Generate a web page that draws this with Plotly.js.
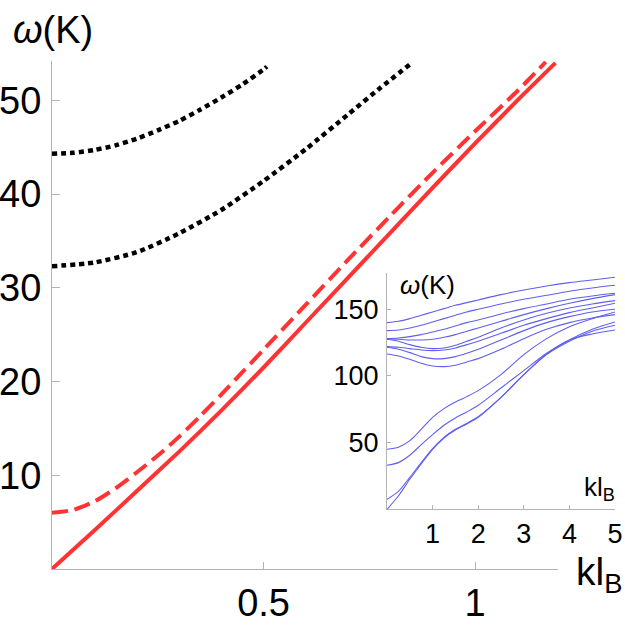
<!DOCTYPE html>
<html>
<head>
<meta charset="utf-8">
<script src="https://cdn.plot.ly/plotly-3.0.1.min.js"></script>
<style>html,body{margin:0;padding:0;background:#fff;}#chart{width:625px;height:628px;}</style>
</head>
<body>
<div id="chart"></div>
<script>
// ---- Main panel data (kl_B vs ω in K) ----
const solidX = [0, 0.1, 0.2, 0.3, 0.4, 0.5, 0.6, 0.7, 0.8, 0.9, 1.0, 1.1, 1.19];
const solidY = [0, 4.1, 8.3, 12.5, 16.9, 21.5, 26.3, 31.1, 35.9, 40.7, 45.4, 50.0, 54.0];

const dashedX = [0, 0.05, 0.1, 0.15, 0.2, 0.25, 0.3, 0.35, 0.4, 0.45, 0.5, 0.6, 0.7, 0.8, 0.9, 1.0, 1.1, 1.167];
const dashedY = [6.0, 6.3, 7.2, 8.6, 10.3, 12.1, 14.1, 16.3, 18.6, 21.0, 23.4, 28.2, 33.0, 37.7, 42.3, 46.7, 51.0, 54.1];

const dot1X = [0, 0.05, 0.1, 0.15, 0.2, 0.25, 0.3, 0.35, 0.4, 0.45, 0.5, 0.508];
const dot1Y = [44.3, 44.4, 44.7, 45.2, 45.9, 46.8, 47.8, 49.0, 50.3, 51.7, 53.3, 53.6];

const dot2X = [0, 0.1, 0.2, 0.3, 0.4, 0.5, 0.6, 0.7, 0.775, 0.845];
const dot2Y = [32.3, 32.7, 33.8, 35.8, 38.3, 41.4, 44.8, 48.5, 51.3, 53.8];

const mainXTicks = [0.5, 1];
const mainXTickText = ["0.5", "1"];
const mainYTicks = [10, 20, 30, 40, 50];
const mainYTickText = ["10", "20", "30", "40", "50"];

// ---- Inset data ----
const insetX = [0, 0.25, 0.5, 0.75, 1, 1.25, 1.5, 1.75, 2, 2.5, 3, 3.5, 4, 4.5, 5];
const band1 = [140, 141, 143, 145.5, 148, 150.5, 153, 155, 157, 161, 164.5, 167.5, 170, 172, 174];
const band2 = [134, 134.5, 136, 138, 140.5, 143, 145.5, 148, 150, 154, 157.5, 160.5, 163.5, 166, 168];
const band3 = [128, 128.5, 129.5, 131, 133, 135, 137.5, 140, 142, 146.5, 150.5, 154, 157.5, 160, 162];
const band4 = [128, 127.5, 127, 127, 127.5, 129, 131, 133.5, 136, 141, 146, 150.5, 154.5, 158, 161];
const band5 = [127.5, 126, 123.5, 121.5, 120.5, 121, 123, 126, 129, 136, 142, 147, 151, 154, 156.5];
const band6 = [122, 121.5, 120.5, 119.5, 119, 119.5, 121, 123.5, 126, 132, 138, 143, 147.5, 151, 154.5];
const band7 = [121.5, 120, 117.5, 114.5, 113, 113, 114.5, 117, 120, 127, 134, 140, 144.5, 148, 150];
const band8 = [116.5, 115, 112.5, 109.5, 107.5, 107, 108, 110.5, 113, 120, 128, 135, 140, 143.5, 146];
const band9 = [45, 46.5, 51.5, 60, 69, 75.5, 80.5, 84.5, 89, 101, 116, 128, 137, 143, 148];
const band10 = [33, 35, 40.5, 48.5, 56, 63, 68.5, 73, 78, 91, 104, 117, 127, 131.5, 134.5];
const band11 = [7.5, 13.5, 24, 35, 45.5, 54, 60, 64.5, 69.5, 84, 101, 116, 126, 133.5, 138];
const band12 = [0, 10, 22.5, 34, 45, 53.5, 59.5, 64, 69, 84, 101, 116.5, 127, 135, 140.5];
const insetBands = [band1, band2, band3, band4, band5, band6, band7, band8, band9, band10, band11, band12];

const insetXTicks = [1, 2, 3, 4, 5];
const insetYTicks = [50, 100, 150];

const FONT = "Liberation Sans, Arial, Helvetica, sans-serif";
const red = "#ff3333";
const blue = "rgb(95,95,240)";

const traces = [
  {x: dot1X, y: dot1Y, mode: "lines", line: {color: "#000", width: 4.5, dash: "5px,4px", shape: "spline", smoothing: 0.6}, xaxis: "x", yaxis: "y"},
  {x: dot2X, y: dot2Y, mode: "lines", line: {color: "#000", width: 4.5, dash: "5px,4px", shape: "spline", smoothing: 0.6}, xaxis: "x", yaxis: "y"},
  {x: dashedX, y: dashedY, mode: "lines", line: {color: red, width: 4, dash: "16px,7px", shape: "spline", smoothing: 0.6}, xaxis: "x", yaxis: "y"},
  {x: solidX, y: solidY, mode: "lines", line: {color: red, width: 4, shape: "spline", smoothing: 0.6}, xaxis: "x", yaxis: "y"}
];
insetBands.forEach(b => traces.push({x: insetX, y: b, mode: "lines", line: {color: blue, width: 1.1, shape: "spline", smoothing: 0.8}, xaxis: "x2", yaxis: "y2"}));

const axisCommon = {showgrid: false, zeroline: false, showline: true, linecolor: "#b3b3b3", linewidth: 1, ticks: "inside", tickcolor: "#b3b3b3", tickwidth: 1, fixedrange: true};

const layout = {
  width: 625, height: 628,
  margin: {l: 0, r: 0, t: 0, b: 0},
  paper_bgcolor: "#fff", plot_bgcolor: "rgba(0,0,0,0)",
  showlegend: false,
  font: {family: FONT, color: "#000"},
  xaxis: Object.assign({}, axisCommon, {
    domain: [52/625, 558/625], range: [0, 1.196], anchor: "y",
    tickvals: mainXTicks, ticktext: mainXTickText, ticklen: 7,
    tickfont: {family: FONT, size: 38, color: "#000"}, ticklabelstandoff: 0
  }),
  yaxis: Object.assign({}, axisCommon, {
    domain: [1 - 569/628, 1 - 61/628], range: [0, 54.2], anchor: "x",
    tickvals: mainYTicks, ticktext: mainYTickText, ticklen: 8,
    tickfont: {family: FONT, size: 38, color: "#000"}, ticklabelstandoff: 2
  }),
  xaxis2: Object.assign({}, axisCommon, {
    domain: [387/625, 615/625], range: [0, 5], anchor: "y2",
    tickvals: insetXTicks, ticklen: 4,
    tickfont: {family: FONT, size: 27, color: "#000"}, ticklabelstandoff: 0
  }),
  yaxis2: Object.assign({}, axisCommon, {
    domain: [1 - 509.3/628, 1 - 273.3/628], range: [0, 177], anchor: "x2",
    tickvals: insetYTicks, ticklen: 4,
    tickfont: {family: FONT, size: 27, color: "#000"}, ticklabelstandoff: 2
  }),
  annotations: [
    {text: "<i>ω</i>(K)", xref: "paper", yref: "paper", x: 53/625, y: 1 - 30/628, xanchor: "center", yanchor: "middle", showarrow: false, font: {family: FONT, size: 38, color: "#000"}},
    {text: "kl<sub>B</sub>", xref: "paper", yref: "paper", x: 574/625, y: 1 - 574/628, xanchor: "left", yanchor: "middle", showarrow: false, font: {family: FONT, size: 39, color: "#000"}},
    {text: "<i>ω</i>(K)", xref: "paper", yref: "paper", x: 427/625, y: 1 - 285/628, xanchor: "center", yanchor: "middle", showarrow: false, font: {family: FONT, size: 26, color: "#000"}},
    {text: "kl<sub>B</sub>", xref: "paper", yref: "paper", x: 582/625, y: 1 - 488/628, xanchor: "left", yanchor: "middle", showarrow: false, font: {family: FONT, size: 26, color: "#000"}}
  ]
};

Plotly.newPlot("chart", traces, layout, {staticPlot: true, displayModeBar: false});
</script>
</body>
</html>
